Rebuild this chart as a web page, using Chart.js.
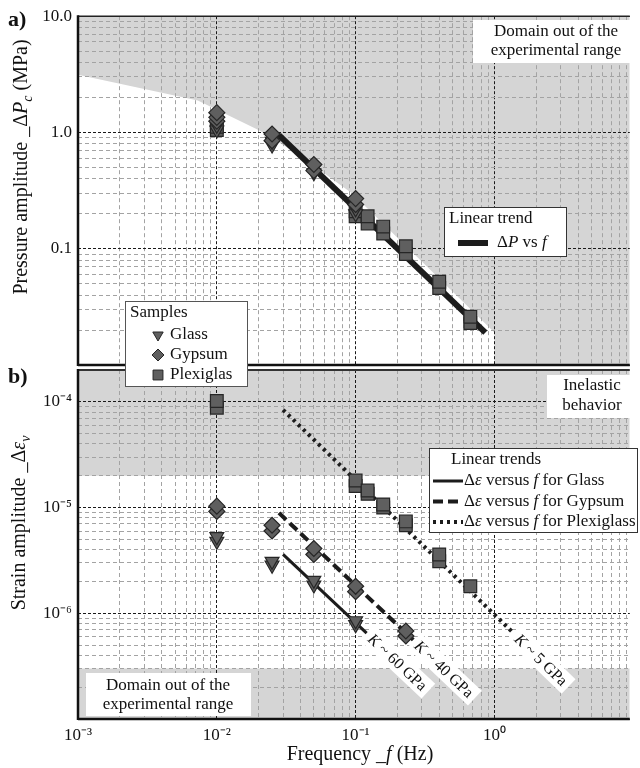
<!DOCTYPE html>
<html>
<head>
<meta charset="utf-8">
<script src="https://cdn.jsdelivr.net/npm/chart.js@4.4.1/dist/chart.umd.min.js"></script>
<style>
  body { margin: 0; background: #fff; }
  #wrap { position: relative; width: 640px; height: 768px; }
  #wrap canvas { position: absolute; left: 0; top: 0; }
</style>
</head>
<body>
<div id="wrap">
  <canvas id="pressureChart" width="640" height="768"></canvas>
  <canvas id="strainChart" width="640" height="768"></canvas>
</div>
<script>
// ---- values ----
const freqMin = 0.001, freqMax = 9.44;

// a) pressure amplitude (MPa)
const glassFreqP = [0.01, 0.01, 0.025, 0.025, 0.05, 0.05, 0.1, 0.1];
const glassP = [1.05, 1.15, 0.78, 0.84, 0.45, 0.49, 0.2, 0.22];
const gypsumFreqP = [0.01, 0.01, 0.01, 0.025, 0.025, 0.05, 0.05, 0.1, 0.1];
const gypsumP = [1.25, 1.35, 1.48, 0.85, 0.97, 0.47, 0.53, 0.24, 0.27];
const plexiFreqP = [0.01, 0.01, 0.1, 0.1, 0.122, 0.122, 0.158, 0.158, 0.23, 0.23, 0.4, 0.4, 0.67, 0.67];
const plexiP = [1.05, 1.12, 0.19, 0.21, 0.165, 0.19, 0.135, 0.155, 0.09, 0.105, 0.046, 0.052, 0.023, 0.026];
const trendFreqP = [0.028, 0.86];
const trendP = [0.95, 0.019];
const limitFreqP = [0.001, 0.0073, 0.0203, 0.037, 0.094, 1, 1, 9.44];
const limitP = [3.14, 1.88, 1.04, 0.67, 0.30, 0.019, 0.01, 0.01];

// b) strain amplitude
const glassFreqE = [0.01, 0.01, 0.025, 0.025, 0.05, 0.05, 0.1, 0.1];
const glassE = [4.8e-6, 5.3e-6, 2.85e-6, 3.1e-6, 1.85e-6, 2.05e-6, 7.8e-7, 8.5e-7];
const gypsumFreqE = [0.01, 0.01, 0.025, 0.025, 0.05, 0.05, 0.1, 0.1, 0.23, 0.23];
const gypsumE = [9.2e-6, 1.03e-5, 6.0e-6, 6.8e-6, 3.6e-6, 4.1e-6, 1.6e-6, 1.8e-6, 6.1e-7, 6.8e-7];
const plexiFreqE = [0.01, 0.01, 0.1, 0.1, 0.122, 0.122, 0.158, 0.158, 0.23, 0.23, 0.4, 0.4, 0.67];
const plexiE = [8.8e-5, 1.02e-4, 1.6e-5, 1.8e-5, 1.35e-5, 1.45e-5, 1.0e-5, 1.07e-5, 6.8e-6, 7.4e-6, 3.1e-6, 3.6e-6, 1.8e-6];
const trendFreqGlass = [0.03, 0.12];
const trendGlass = [3.6e-6, 6.5e-7];
const trendFreqGypsum = [0.028, 0.26];
const trendGypsum = [8.9e-6, 5.6e-7];
const trendFreqPlexi = [0.03, 1.37];
const trendPlexi = [8.4e-5, 6.5e-7];
const shadeFreq = [0.001, 9.44];
const inelasticLimit = [2e-5, 2e-5];
const lowLimit = [3e-7, 3e-7];

const slopeLabels = ['60', '40', '5'];

// ---- helpers ----
const SERIF = "'Liberation Serif', 'Times New Roman', Times, serif";
Chart.defaults.font.family = SERIF;
Chart.defaults.color = '#111';

const SUP = { '-': '\u207B', '0': '\u2070', '1': '\u00B9', '2': '\u00B2', '3': '\u00B3', '4': '\u2074', '5': '\u2075', '6': '\u2076', '7': '\u2077' };

function pts(xs, ys) { return xs.map((x, i) => ({ x: x, y: ys[i] })); }
function isDecade(v) { const l = Math.log10(v); return Math.abs(l - Math.round(l)) < 1e-6; }
function pow10Label(v) {
  const e = String(Math.round(Math.log10(v)));
  return '10' + e.split('').map(c => SUP[c]).join('');
}
function logTicks(min, max) {
  const out = [];
  for (let e = Math.floor(Math.log10(min)); e <= Math.ceil(Math.log10(max)); e++) {
    for (let k = 1; k <= 9; k++) {
      const v = k * Math.pow(10, e);
      if (v >= min * 0.999 && v <= max * 1.001) out.push({ value: v });
    }
  }
  return out;
}
function fontOf(size, italic, bold) {
  return (italic ? 'italic ' : '') + (bold ? 'bold ' : '') + size + 'px ' + SERIF;
}
function richText(ctx, x, y, segs, size, align) {
  const parts = segs.map(s => {
    const sz = (s.sub || s.sup) ? Math.round(size * 0.7) : size;
    const font = fontOf(sz, s.i, s.b);
    ctx.font = font;
    return { s: s, font: font, w: ctx.measureText(s.t).width, dy: s.sub ? size * 0.3 : (s.sup ? -size * 0.35 : 0) };
  });
  const total = parts.reduce((a, p) => a + p.w, 0);
  let cx = align === 'center' ? x - total / 2 : (align === 'right' ? x - total : x);
  ctx.textAlign = 'left';
  ctx.textBaseline = 'middle';
  ctx.fillStyle = '#111';
  parts.forEach(p => { ctx.font = p.font; ctx.fillText(p.s.t, cx, y + p.dy); cx += p.w; });
  return total;
}
function stroke(ctx, p, w, c, dash) {
  ctx.save();
  ctx.lineWidth = w; ctx.strokeStyle = c; ctx.setLineDash(dash || []);
  ctx.beginPath(); ctx.moveTo(p[0][0], p[0][1]); ctx.lineTo(p[1][0], p[1][1]); ctx.stroke();
  ctx.restore();
}
function whiteBox(ctx, x, y, w, h, border) {
  ctx.fillStyle = '#fff';
  ctx.fillRect(x, y, w, h);
  if (border) { ctx.lineWidth = 1; ctx.strokeStyle = border; ctx.strokeRect(x + 0.5, y + 0.5, w - 1, h - 1); }
}
function marker(ctx, style, rot, r, x, y) {
  ctx.fillStyle = '#5f5f5f'; ctx.strokeStyle = '#262626'; ctx.lineWidth = 1;
  Chart.helpers.drawPoint(ctx, { pointStyle: style, rotation: rot, radius: r, borderWidth: 1 }, x, y);
}

function logAxis(min, max, label, extra) {
  const ax = {
    type: 'logarithmic', min: min, max: max,
    afterBuildTicks: s => { s.ticks = logTicks(min, max); },
    ticks: { autoSkip: false, maxRotation: 0, minRotation: 0, padding: 6, color: '#111',
             font: { size: 17 }, callback: v => label(v) },
    grid: { color: c => (c.tick && isDecade(c.tick.value)) ? '#1a1a1a' : '#a3a3a3', lineWidth: 1, drawTicks: false },
    border: { display: false, dash: c => c.tick ? (isDecade(c.tick.value) ? [3, 2] : [4, 3]) : [] }
  };
  return Object.assign(ax, extra);
}

const markerBase = { pointBackgroundColor: '#5f5f5f', pointBorderColor: '#262626', pointBorderWidth: 1.2, showLine: false };
const glassMarks = Object.assign({ pointStyle: 'triangle', pointRotation: 180, pointRadius: 8 }, markerBase);
const gypsumMarks = Object.assign({ pointStyle: 'rectRot', pointRadius: 8 }, markerBase);
const plexiMarks = Object.assign({ pointStyle: 'rect', pointRadius: 9 }, markerBase);
const shadeBase = { showLine: true, pointRadius: 0, borderColor: 'rgba(0,0,0,0)', borderWidth: 0, backgroundColor: '#d5d5d5' };

// ---- a) pressure ----
const yTitleA = [{ t: 'Pressure amplitude _\u0394' }, { t: 'P', i: 1 }, { t: 'c', i: 1, sub: 1 }, { t: ' (MPa)' }];

const pressureDecor = {
  id: 'pressureDecor',
  afterDraw(chart) {
    const ctx = chart.ctx, a = chart.chartArea;
    ctx.save();
    stroke(ctx, [[a.left, a.top], [a.right, a.top]], 1.5, '#222');
    stroke(ctx, [[a.left, a.bottom], [a.right, a.bottom]], 2.5, '#111');
    stroke(ctx, [[a.left, a.top - 1], [a.left, a.bottom + 1]], 2.5, '#111');

    whiteBox(ctx, 473, 20, 165, 43, null);
    richText(ctx, 556, 32, [{ t: 'Domain out of the' }], 17, 'center');
    richText(ctx, 556, 51, [{ t: 'experimental range' }], 17, 'center');

    whiteBox(ctx, 444, 207, 123, 50, '#333');
    richText(ctx, 449, 219, [{ t: 'Linear trend' }], 17, 'left');
    stroke(ctx, [[458, 243], [488, 243]], 6, '#1c1c1c');
    richText(ctx, 497, 243, [{ t: '\u0394' }, { t: 'P', i: 1 }, { t: ' vs ' }, { t: 'f', i: 1 }], 17, 'left');

    richText(ctx, 8, 20, [{ t: 'a)', b: 1 }], 22, 'left');

    ctx.translate(22, 167);
    ctx.rotate(-Math.PI / 2);
    richText(ctx, 0, 0, yTitleA, 20, 'center');
    ctx.restore();
  }
};

new Chart(document.getElementById('pressureChart'), {
  type: 'scatter',
  data: {
    datasets: [
      Object.assign({ label: 'Gypsum', data: pts(gypsumFreqP, gypsumP) }, gypsumMarks),
      Object.assign({ label: 'Glass', data: pts(glassFreqP, glassP) }, glassMarks),
      Object.assign({ label: 'Plexiglas', data: pts(plexiFreqP, plexiP) }, plexiMarks),
      { label: 'ΔP vs f', data: pts(trendFreqP, trendP), showLine: true, pointRadius: 0,
        borderColor: '#1c1c1c', borderWidth: 6, borderCapStyle: 'butt' },
      Object.assign({ label: 'limit', data: pts(limitFreqP, limitP), fill: 'end' }, shadeBase)
    ]
  },
  options: {
    responsive: false, animation: false, events: [],
    layout: { padding: { top: 15, bottom: 403, left: 0, right: 0 } },
    plugins: { legend: { display: false }, tooltip: { enabled: false }, filler: { drawTime: 'beforeDraw' } },
    scales: {
      x: logAxis(freqMin, freqMax, () => '', { position: 'bottom', afterFit: s => { s.height = 0; } }),
      y: logAxis(0.01, 10, v => v === 10 ? '10.0' : v === 1 ? '1.0' : (Math.abs(v - 0.1) < 1e-9 ? '0.1' : ''),
                 { position: 'left', afterFit: s => { s.width = 78; } })
    }
  },
  plugins: [pressureDecor]
});

// ---- b) strain ----
const yTitleB = [{ t: 'Strain amplitude _\u0394' }, { t: '\u03B5', i: 1 }, { t: 'v', i: 1, sub: 1 }];
const xTitle = [{ t: 'Frequency _' }, { t: 'f', i: 1 }, { t: ' (Hz)' }];

const strainDecor = {
  id: 'strainDecor',
  afterDraw(chart) {
    const ctx = chart.ctx, a = chart.chartArea, xs = chart.scales.x, ys = chart.scales.y;
    ctx.save();
    stroke(ctx, [[a.left, a.top], [a.right, a.top]], 2, '#333');
    stroke(ctx, [[a.left, a.bottom], [a.right, a.bottom]], 2.5, '#111');
    stroke(ctx, [[a.left, a.top - 1], [a.left, a.bottom + 1]], 2.5, '#111');

    // slope labels at the end of each trend line
    [[trendFreqGlass, trendGlass], [trendFreqGypsum, trendGypsum], [trendFreqPlexi, trendPlexi]].forEach((tr, k) => {
      const x1 = xs.getPixelForValue(tr[0][0]), y1 = ys.getPixelForValue(tr[1][0]);
      const x2 = xs.getPixelForValue(tr[0][1]), y2 = ys.getPixelForValue(tr[1][1]);
      const ang = Math.atan2(y2 - y1, x2 - x1);
      const segs = [{ t: 'K', i: 1 }, { t: ' ~ ' + slopeLabels[k] + ' GPa' }];
      ctx.save();
      ctx.translate(x2, y2);
      ctx.rotate(ang);
      ctx.font = fontOf(16);
      const w = ctx.measureText('K ~ ' + slopeLabels[k] + ' GPa').width;
      ctx.fillStyle = '#fff';
      ctx.fillRect(1, -10, w + 8, 20);
      richText(ctx, 5, 1, segs, 16, 'left');
      ctx.restore();
    });

    whiteBox(ctx, 547, 375, 90, 43, null);
    richText(ctx, 592, 386, [{ t: 'Inelastic' }], 17, 'center');
    richText(ctx, 592, 406, [{ t: 'behavior' }], 17, 'center');

    whiteBox(ctx, 86, 673, 165, 43, null);
    richText(ctx, 168, 686, [{ t: 'Domain out of the' }], 17, 'center');
    richText(ctx, 168, 705, [{ t: 'experimental range' }], 17, 'center');

    // legend: linear trends
    whiteBox(ctx, 429, 448, 209, 85, '#333');
    richText(ctx, 451, 460, [{ t: 'Linear trends' }], 17, 'left');
    const rows = [['Glass', [], 3], ['Gypsum', [10, 5], 4], ['Plexiglass', [3, 4], 4]];
    rows.forEach((r, k) => {
      const y = 481 + k * 20.5;
      stroke(ctx, [[433, y], [463, y]], r[2], '#1c1c1c', r[1]);
      richText(ctx, 464, y, [{ t: '\u0394' }, { t: '\u03B5', i: 1 }, { t: ' versus ' }, { t: 'f', i: 1 }, { t: ' for ' + r[0] }], 17, 'left');
    });

    // legend: samples (straddles both panels)
    whiteBox(ctx, 125, 301, 123, 86, '#555');
    richText(ctx, 130, 313, [{ t: 'Samples' }], 17, 'left');
    marker(ctx, 'triangle', 180, 6, 158, 335);
    richText(ctx, 170, 335, [{ t: 'Glass' }], 17, 'left');
    marker(ctx, 'rectRot', 0, 6, 158, 355);
    richText(ctx, 170, 355, [{ t: 'Gypsum' }], 17, 'left');
    marker(ctx, 'rect', 0, 7, 158, 375);
    richText(ctx, 170, 375, [{ t: 'Plexiglas' }], 17, 'left');

    richText(ctx, 8, 377, [{ t: 'b)', b: 1 }], 22, 'left');
    richText(ctx, 360, 755, xTitle, 20, 'center');

    ctx.translate(20, 523);
    ctx.rotate(-Math.PI / 2);
    richText(ctx, 0, 0, yTitleB, 20, 'center');
    ctx.restore();
  }
};

new Chart(document.getElementById('strainChart'), {
  type: 'scatter',
  data: {
    datasets: [
      Object.assign({ label: 'Gypsum', data: pts(gypsumFreqE, gypsumE) }, gypsumMarks),
      Object.assign({ label: 'Glass', data: pts(glassFreqE, glassE) }, glassMarks),
      Object.assign({ label: 'Plexiglas', data: pts(plexiFreqE, plexiE) }, plexiMarks),
      { label: 'Glass trend', data: pts(trendFreqGlass, trendGlass), showLine: true, pointRadius: 0,
        borderColor: '#1c1c1c', borderWidth: 3, borderCapStyle: 'butt' },
      { label: 'Gypsum trend', data: pts(trendFreqGypsum, trendGypsum), showLine: true, pointRadius: 0,
        borderColor: '#1c1c1c', borderWidth: 4, borderDash: [10, 5], borderCapStyle: 'butt' },
      { label: 'Plexiglass trend', data: pts(trendFreqPlexi, trendPlexi), showLine: true, pointRadius: 0,
        borderColor: '#1c1c1c', borderWidth: 4, borderDash: [3, 4], borderCapStyle: 'butt' },
      Object.assign({ label: 'inelastic', data: pts(shadeFreq, inelasticLimit), fill: 'end' }, shadeBase),
      Object.assign({ label: 'low', data: pts(shadeFreq, lowLimit), fill: 'start' }, shadeBase)
    ]
  },
  options: {
    responsive: false, animation: false, events: [],
    layout: { padding: { top: 370, bottom: 0, left: 0, right: 0 } },
    plugins: { legend: { display: false }, tooltip: { enabled: false }, filler: { drawTime: 'beforeDraw' } },
    scales: {
      x: logAxis(freqMin, freqMax, v => (isDecade(v) && v <= 1) ? pow10Label(v) : '',
                 { position: 'bottom', afterFit: s => { s.height = 49; } }),
      y: logAxis(1e-7, 2e-4, v => (isDecade(v) && v >= 1e-6) ? pow10Label(v) : '',
                 { position: 'left', afterFit: s => { s.width = 78; } })
    }
  },
  plugins: [strainDecor]
});
</script>
</body>
</html>
